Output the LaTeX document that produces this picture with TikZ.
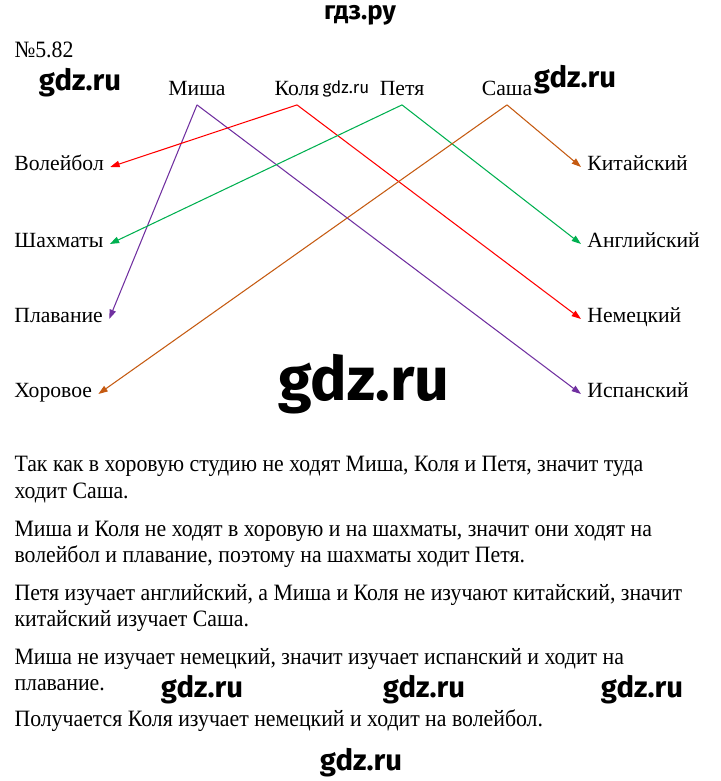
\documentclass[tikz,border=0pt]{standalone}
\usepackage{fontspec}
\setmainfont{Liberation Serif}
\newfontfamily\bodyfont[FakeStretch=0.93]{Liberation Serif}
\newfontfamily\markfont{Fira Sans}
\usepackage{tikz}
\usetikzlibrary{arrows.meta}
\definecolor{mishaC}{HTML}{7030A0}
\definecolor{kolyaC}{HTML}{FF0000}
\definecolor{petyaC}{HTML}{00B050}
\definecolor{sashaC}{HTML}{C55A11}
\newcommand{\tikzMarkNode}[3]{
  \node[font=\markfont\bfseries\fontsize{#3}{#3}\selectfont,inner sep=0pt] (#1) at (#2) {gdz.ru};
}
\newcommand{\tikzLineNode}[3]{
  \node[anchor=west,inner sep=0pt,font=\bodyfont\fontsize{20}{24}\selectfont] (#1) at (14,#2) {#3};
}

\begin{document}
\begin{tikzpicture}[x=0.03cm, y=-0.03cm, line width=0.9pt, ->, >={Triangle[length=8pt,width=5.5pt]},
  lbl/.style={font=\fontsize{18.5}{22}\selectfont,text height=1.45ex,text depth=0.1ex,inner sep=5pt},
  who/.style={lbl,inner xsep=2pt,inner ysep=7pt}]
  \useasboundingbox (0,0) rectangle (720,781);
  \node[font=\markfont\bfseries\fontsize{22}{22}\selectfont] (head) at (360,15) {гдз.ру};
  \node[anchor=west,inner sep=0pt,font=\bodyfont\fontsize{20}{24}\selectfont] (num) at (14,50) {№5.82};
  % children
  \node [who] (misha) at (197,92) {Миша};
  \node [who] (kolya) at (297,92) {Коля};
  \node [who] (petya) at (402,92) {Петя};
  \node [who] (sasha) at (507,92) {Саша};
  % sports
  \node [lbl,anchor=west] (volley) at (8,167) {Волейбол};
  \node [lbl,anchor=west] (chess)  at (8,244) {Шахматы};
  \node [lbl,anchor=west] (swim)   at (8,319) {Плавание};
  \node [lbl,anchor=west] (choir)  at (8,394) {Хоровое};
  % languages
  \node [lbl,anchor=west] (china) at (581,167) {Китайский};
  \node [lbl,anchor=west] (engl)  at (581,244) {Английский};
  \node [lbl,anchor=west] (germ)  at (581,319) {Немецкий};
  \node [lbl,anchor=west] (span)  at (581,394) {Испанский};
  \path[mishaC] (misha.south) edge (swim.east) (misha.south) edge (span.west);
  \path[kolyaC] (kolya.south) edge (volley.east) (kolya.south) edge (germ.west);
  \path[petyaC] (petya.south) edge (chess.east) (petya.south) edge (engl.west);
  \path[sashaC] (sasha.south) edge (choir.east) (sasha.south) edge (china.west);
  % text
  \tikzLineNode{t1}{466}{Так как в хоровую студию не ходят Миша, Коля и Петя, значит туда}
  \tikzLineNode{t2}{493}{ходит Саша.}
  \tikzLineNode{t3}{531}{Миша и Коля не ходят в хоровую и на шахматы, значит они ходят на}
  \tikzLineNode{t4}{557}{волейбол и плавание, поэтому на шахматы ходит Петя.}
  \tikzLineNode{t5}{595}{Петя изучает английский, а Миша и Коля не изучают китайский, значит}
  \tikzLineNode{t6}{621}{китайский изучает Саша.}
  \tikzLineNode{t7}{659}{Миша не изучает немецкий, значит изучает испанский и ходит на}
  \tikzLineNode{t8}{685}{плавание.}
  \tikzLineNode{t9}{721}{Получается Коля изучает немецкий и ходит на волейбол.}
  % marks
  \tikzMarkNode{m1}{80,83}{25}
  \tikzMarkNode{m2}{575,80}{25}
  \node[font=\markfont\fontsize{14.5}{14.5}\selectfont,inner sep=0pt] (m3) at (346,89) {gdz.ru};
  \tikzMarkNode{m4}{364,384}{52}
  \tikzMarkNode{m5}{202,690}{25}
  \tikzMarkNode{m6}{424,690}{25}
  \tikzMarkNode{m7}{642,690}{25}
  \tikzMarkNode{m8}{361,763}{25}
\end{tikzpicture}
\end{document}
